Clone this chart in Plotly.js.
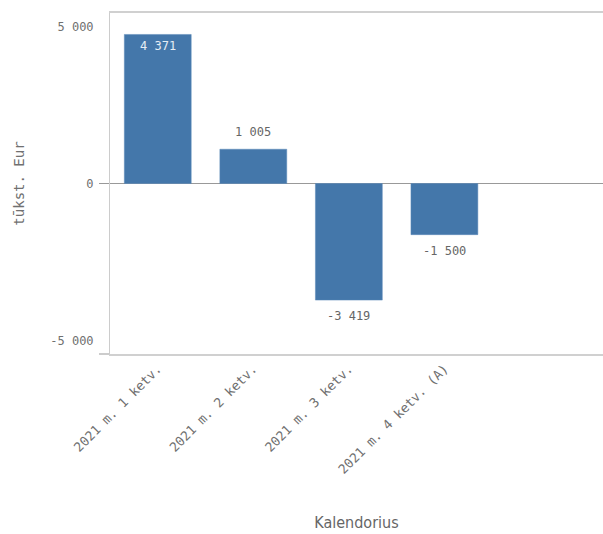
<!DOCTYPE html>
<html>
<head>
<meta charset="utf-8">
<script src="https://cdn.plot.ly/plotly-3.0.1.min.js"></script>
<style>html,body{margin:0;padding:0;background:#fff;}#chart{width:603px;height:534px;}</style>
</head>
<body>
<div id="chart"></div>
<script>
const categories = ['2021 m. 1 ketv.', '2021 m. 2 ketv.', '2021 m. 3 ketv.', '2021 m. 4 ketv. (A)'];
const values = [4371, 1005, -3419, -1500];
const valueLabels = ['4 371', '1 005', '-3 419', '-1 500'];
const yTopTick = [5000], yTopText = ['5 000'];
const yMidTick = [0], yMidText = ['0'];
const yBotTick = [-5000], yBotText = ['-5 000'];
const yRange = [-5000, 5000];

const mono = 'DejaVu Sans Mono, Liberation Mono, monospace';
const narrow = 'Liberation Sans Narrow, DejaVu Sans Condensed, Liberation Sans, sans-serif';

const trace = {
  type: 'bar',
  x: categories,
  y: values,
  width: 0.7,
  marker: {color: '#4477aa', line: {color: '#5a88b8', width: 0.5}},
  hoverinfo: 'none'
};

const annotations = values.map((v, i) => {
  const inside = v > 3000;
  return {
    x: categories[i], y: v, xref: 'x', yref: 'y',
    text: valueLabels[i], showarrow: false,
    yanchor: 'middle',
    yshift: inside ? -12 : (v >= 0 ? 17 : -16),
    font: {family: mono, size: 12, color: inside ? '#e6edf5' : '#666666'}
  };
});

const baseY = {
  range: yRange, fixedrange: true, showgrid: false,
  tickmode: 'array', tickfont: {family: mono, size: 12, color: '#707070'},
  ticklabelstandoff: 3
};

const layout = {
  width: 603, height: 534,
  margin: {l: 110, r: 0, t: 13, b: 180, autoexpand: false},
  paper_bgcolor: '#ffffff', plot_bgcolor: '#ffffff',
  showlegend: false,
  separators: ', ',
  xaxis: {
    type: 'category', range: [-0.5, 4.66], fixedrange: true,
    showline: true, linecolor: '#d0d0d0', linewidth: 2, mirror: true,
    ticks: '', tickangle: -45, showgrid: false, zeroline: false,
    tickfont: {family: mono, size: 13, color: '#707070'},
    automargin: false,
    title: {text: 'Kalendorius', standoff: 41, font: {family: narrow, size: 16, color: '#666666'}}
  },
  yaxis: Object.assign({}, baseY, {
    tickvals: yMidTick, ticktext: yMidText,
    ticks: 'outside', ticklen: 10, tickcolor: '#999999', tickwidth: 1,
    showline: true, linecolor: '#cccccc', linewidth: 1,
    zeroline: true, zerolinecolor: '#999999', zerolinewidth: 1,
    layer: 'above traces', automargin: false,
    title: {text: 'tūkst. Eur', standoff: 58, font: {family: mono, size: 14, color: '#707070'}}
  }),
  yaxis2: Object.assign({}, baseY, {
    overlaying: 'y', side: 'left', anchor: 'x',
    tickvals: yTopTick, ticktext: yTopText,
    ticks: 'outside', ticklen: 10, tickcolor: 'rgba(0,0,0,0)',
    showline: false, zeroline: false, ticklabelshift: 14
  }),
  yaxis3: Object.assign({}, baseY, {
    overlaying: 'y', side: 'left', anchor: 'x',
    tickvals: yBotTick, ticktext: yBotText,
    ticks: 'outside', ticklen: 10, tickcolor: '#cccccc', tickwidth: 2,
    showline: false, zeroline: false, ticklabelshift: -13
  }),
  annotations: annotations
};

const helpers = [
  {type: 'scatter', x: [categories[0]], y: [0], yaxis: 'y2', mode: 'markers', marker: {opacity: 0}, hoverinfo: 'none'},
  {type: 'scatter', x: [categories[0]], y: [0], yaxis: 'y3', mode: 'markers', marker: {opacity: 0}, hoverinfo: 'none'}
];

Plotly.newPlot('chart', [trace].concat(helpers), layout, {staticPlot: true, displayModeBar: false});
</script>
</body>
</html>
